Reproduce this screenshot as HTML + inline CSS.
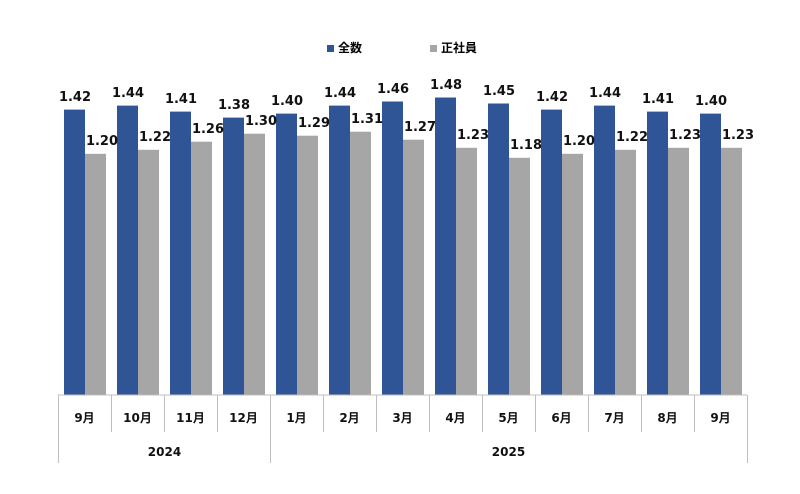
<!DOCTYPE html>
<html><head><meta charset="utf-8"><style>
body{margin:0;background:#fff;}
svg{display:block;font-family:"DejaVu Sans","Noto Sans CJK JP",sans-serif;}
.l{font-size:13px;font-weight:bold;fill:#111;text-anchor:middle;}
.a{font-size:12px;font-weight:bold;fill:#111;text-anchor:middle;}
</style></head><body>
<svg width="800" height="494" viewBox="0 0 800 494">
<rect x="327" y="45" width="7" height="7" fill="#2f5597"/>
<text x="338" y="52" style="font-size:12px;font-weight:bold">全数</text>
<rect x="430" y="45" width="7" height="7" fill="#a6a6a6"/>
<text x="441" y="52" style="font-size:12px;font-weight:bold">正社員</text>
<g fill="#2f5597">
<rect x="64" y="109.6" width="21" height="285.4"/>
<rect x="117" y="105.6" width="21" height="289.4"/>
<rect x="170" y="111.6" width="21" height="283.4"/>
<rect x="223" y="117.6" width="21" height="277.4"/>
<rect x="276" y="113.6" width="21" height="281.4"/>
<rect x="329" y="105.6" width="21" height="289.4"/>
<rect x="382" y="101.5" width="21" height="293.5"/>
<rect x="435" y="97.5" width="21" height="297.5"/>
<rect x="488" y="103.5" width="21" height="291.5"/>
<rect x="541" y="109.6" width="21" height="285.4"/>
<rect x="594" y="105.6" width="21" height="289.4"/>
<rect x="647" y="111.6" width="21" height="283.4"/>
<rect x="700" y="113.6" width="21" height="281.4"/>
</g>
<g fill="#a6a6a6">
<rect x="85" y="153.8" width="21" height="241.2"/>
<rect x="138" y="149.8" width="21" height="245.2"/>
<rect x="191" y="141.7" width="21" height="253.3"/>
<rect x="244" y="133.7" width="21" height="261.3"/>
<rect x="297" y="135.7" width="21" height="259.3"/>
<rect x="350" y="131.7" width="21" height="263.3"/>
<rect x="403" y="139.7" width="21" height="255.3"/>
<rect x="456" y="147.8" width="21" height="247.2"/>
<rect x="509" y="157.8" width="21" height="237.2"/>
<rect x="562" y="153.8" width="21" height="241.2"/>
<rect x="615" y="149.8" width="21" height="245.2"/>
<rect x="668" y="147.8" width="21" height="247.2"/>
<rect x="721" y="147.8" width="21" height="247.2"/>
</g>
<g>
<text class="l" x="75" y="101">1.42</text>
<text class="l" x="128" y="97">1.44</text>
<text class="l" x="181" y="103">1.41</text>
<text class="l" x="234" y="109">1.38</text>
<text class="l" x="287" y="105">1.40</text>
<text class="l" x="340" y="97">1.44</text>
<text class="l" x="393" y="93">1.46</text>
<text class="l" x="446" y="89">1.48</text>
<text class="l" x="499" y="95">1.45</text>
<text class="l" x="552" y="101">1.42</text>
<text class="l" x="605" y="97">1.44</text>
<text class="l" x="658" y="103">1.41</text>
<text class="l" x="711" y="105">1.40</text>
<text class="l" x="102" y="145">1.20</text>
<text class="l" x="155" y="141">1.22</text>
<text class="l" x="208" y="133">1.26</text>
<text class="l" x="261" y="125">1.30</text>
<text class="l" x="314" y="127">1.29</text>
<text class="l" x="367" y="123">1.31</text>
<text class="l" x="420" y="131">1.27</text>
<text class="l" x="473" y="139">1.23</text>
<text class="l" x="526" y="149">1.18</text>
<text class="l" x="579" y="145">1.20</text>
<text class="l" x="632" y="141">1.22</text>
<text class="l" x="685" y="139">1.23</text>
<text class="l" x="738" y="139">1.23</text>
</g>
<line x1="58" y1="395" x2="747" y2="395" stroke="#bfbfbf" stroke-width="1"/>
<g stroke="#bfbfbf" stroke-width="1">
<line x1="58.5" y1="395" x2="58.5" y2="463"/>
<line x1="111.5" y1="395" x2="111.5" y2="432"/>
<line x1="164.5" y1="395" x2="164.5" y2="432"/>
<line x1="217.5" y1="395" x2="217.5" y2="432"/>
<line x1="270.5" y1="395" x2="270.5" y2="463"/>
<line x1="323.5" y1="395" x2="323.5" y2="432"/>
<line x1="376.5" y1="395" x2="376.5" y2="432"/>
<line x1="429.5" y1="395" x2="429.5" y2="432"/>
<line x1="482.5" y1="395" x2="482.5" y2="432"/>
<line x1="535.5" y1="395" x2="535.5" y2="432"/>
<line x1="588.5" y1="395" x2="588.5" y2="432"/>
<line x1="641.5" y1="395" x2="641.5" y2="432"/>
<line x1="694.5" y1="395" x2="694.5" y2="432"/>
<line x1="747.5" y1="395" x2="747.5" y2="463"/>
</g>
<g>
<text class="a" x="84.5" y="422">9月</text>
<text class="a" x="137.5" y="422">10月</text>
<text class="a" x="190.5" y="422">11月</text>
<text class="a" x="243.5" y="422">12月</text>
<text class="a" x="296.5" y="422">1月</text>
<text class="a" x="349.5" y="422">2月</text>
<text class="a" x="402.5" y="422">3月</text>
<text class="a" x="455.5" y="422">4月</text>
<text class="a" x="508.5" y="422">5月</text>
<text class="a" x="561.5" y="422">6月</text>
<text class="a" x="614.5" y="422">7月</text>
<text class="a" x="667.5" y="422">8月</text>
<text class="a" x="720.5" y="422">9月</text>
<text class="a" x="164.5" y="456">2024</text>
<text class="a" x="508.5" y="456">2025</text>
</g>
</svg>
</body></html>
